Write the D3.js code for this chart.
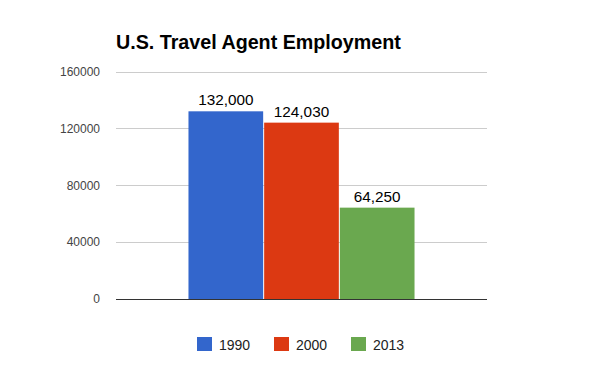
<!DOCTYPE html>
<html>
<head>
<meta charset="utf-8">
<script src="https://cdn.jsdelivr.net/npm/d3@7"></script>
<style>
  body { margin: 0; background: #fff; }
  svg { display: block; font-family: "Liberation Sans", Arial, sans-serif; }
</style>
</head>
<body>
<div id="chart"></div>
<script>
// data
var years = ["1990", "2000", "2013"];
var values = [132000, 124030, 64250];
var colors = ["#3366cc", "#dc3912", "#6aa84f"];
var yTicks = [0, 40000, 80000, 120000, 160000];

var width = 600, height = 371;
var plot = {left: 116, right: 487, top: 71.5, bottom: 299};

var svg = d3.select("#chart").append("svg")
    .attr("width", width)
    .attr("height", height);

svg.append("rect").attr("width", width).attr("height", height).attr("fill", "#fff");

// title
svg.append("text")
    .attr("x", 116)
    .attr("y", 49)
    .attr("font-size", "19.7px")
    .attr("font-weight", "bold")
    .attr("fill", "#000")
    .text("U.S. Travel Agent Employment");

var y = d3.scaleLinear()
    .domain([0, 160000])
    .range([plot.bottom, plot.top]);

// one category group, bars side by side
var x0 = d3.scaleBand()
    .domain(["all"])
    .range([plot.left, plot.right])
    .paddingInner(0)
    .paddingOuter(0.317);

var x1 = d3.scaleBand()
    .domain(years)
    .range([0, x0.bandwidth()])
    .padding(0);

// gridlines
svg.append("g")
    .attr("transform", "translate(" + plot.left + ",0)")
    .call(d3.axisRight(y)
        .tickValues(yTicks)
        .tickSize(plot.right - plot.left)
        .tickFormat(""))
    .call(g => g.select(".domain").remove())
    .selectAll("line")
    .attr("stroke", "#cccccc")
    .attr("shape-rendering", "crispEdges");

// y axis labels
svg.append("g")
    .attr("transform", "translate(" + (plot.left - 13) + ",0)")
    .call(d3.axisLeft(y).tickValues(yTicks).tickSize(0).tickFormat(d3.format("d")))
    .call(g => g.select(".domain").remove())
    .selectAll("text")
    .attr("font-size", "12px")
    .attr("font-family", "'Liberation Sans', Arial, sans-serif")
    .attr("fill", "#444");

// bars
var g = svg.append("g").attr("transform", "translate(" + x0("all") + ",0)");

g.selectAll(".bar")
    .data(years)
    .enter().append("rect")
    .attr("class", "bar")
    .attr("x", function (d) { return x1(d) + 0.5; })
    .attr("width", x1.bandwidth() - 1)
    .attr("y", function (d, i) { return y(values[i]); })
    .attr("height", function (d, i) { return y(0) - y(values[i]); })
    .attr("fill", function (d, i) { return colors[i]; });

g.selectAll(".val")
    .data(years)
    .enter().append("text")
    .attr("class", "val")
    .attr("x", function (d) { return x1(d) + x1.bandwidth() / 2; })
    .attr("y", function (d, i) { return y(values[i]) - 6; })
    .attr("text-anchor", "middle")
    .attr("font-size", "15.3px")
    .attr("fill", "#000")
    .text(function (d, i) { return d3.format(",")(values[i]); });

// baseline
svg.append("line")
    .attr("x1", plot.left).attr("x2", plot.right)
    .attr("y1", y(0)).attr("y2", y(0))
    .attr("stroke", "#333")
    .attr("shape-rendering", "crispEdges");

// legend
var legendX = [197, 274, 351];
var legend = svg.selectAll(".leg")
    .data(years)
    .enter().append("g")
    .attr("class", "leg")
    .attr("transform", function (d, i) { return "translate(" + legendX[i] + ",337)"; });

legend.append("rect")
    .attr("width", 15).attr("height", 14)
    .attr("fill", function (d, i) { return colors[i]; });

legend.append("text")
    .attr("x", 22)
    .attr("y", 12.5)
    .attr("font-size", "14px")
    .attr("fill", "#222")
    .text(function (d) { return d; });
</script>
</body>
</html>
